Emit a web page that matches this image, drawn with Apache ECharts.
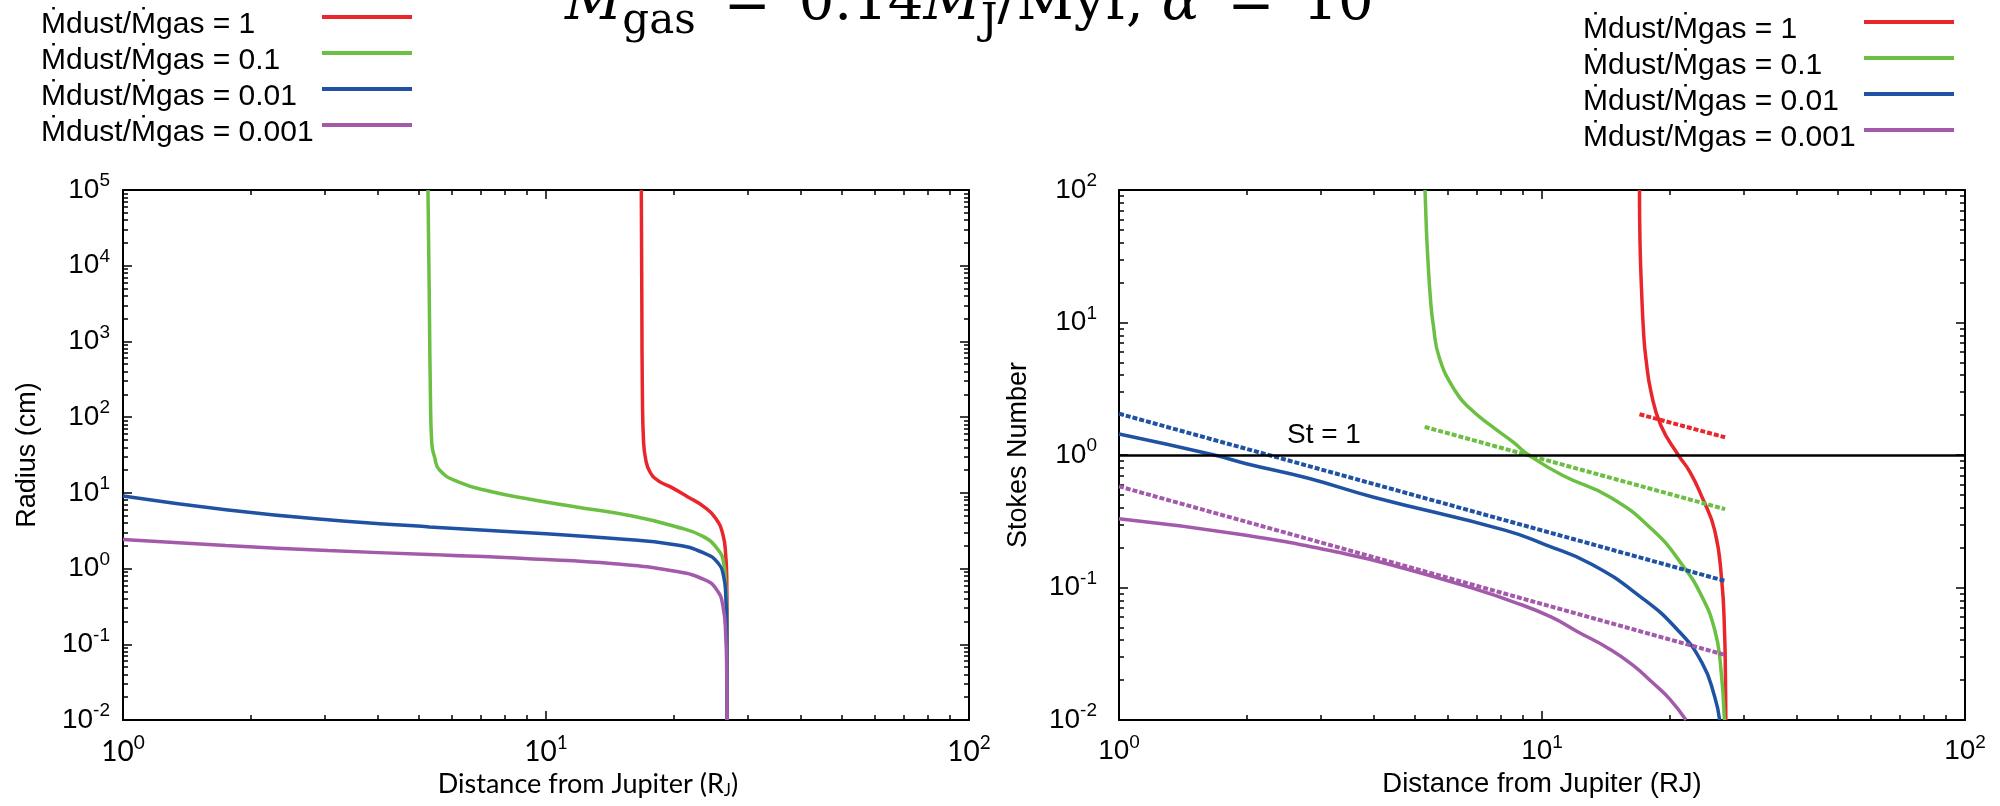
<!DOCTYPE html>
<html>
<head>
<meta charset="utf-8">
<script src="https://cdn.jsdelivr.net/npm/echarts@6/dist/echarts.min.js"></script>
<style>html,body{margin:0;padding:0;background:#fff}#chart{width:2000px;height:806px}</style>
</head>
<body>
<div id="chart"></div>
<script>
var chart = echarts.init(document.getElementById('chart'));

var SANS = '"Liberation Sans", Arial, Helvetica, sans-serif';
var SERIF = '"DejaVu Serif", "Liberation Serif", serif';
var CALIBRI = 'Lato, "Open Sans", sans-serif';

// legend entries and colours
var ratioNames = ['Ṁdust/Ṁgas = 1', 'Ṁdust/Ṁgas = 0.1', 'Ṁdust/Ṁgas = 0.01', 'Ṁdust/Ṁgas = 0.001'];
var colors = ['#e8262b', '#6bbf42', '#1f52a3', '#a45aab'];

// tick values
var xMajor = [1, 10, 100];
var radiusMajor = [0.01, 0.1, 1, 10, 100, 1000, 10000, 100000];
var stokesMajor = [0.01, 0.1, 1, 10, 100];

// left panel: radius (cm) vs distance (R_J)
var radiusRed = [[16.8, 100000], [16.85, 3000], [16.9, 200], [17.0, 50], [17.2, 28], [17.6, 19], [18.4, 14.5], [19.7, 12], [21.6, 8.9], [23.6, 6.6], [25.2, 4.6], [26.2, 2.8], [26.6, 1.5], [26.75, 0.7], [26.8, 0.1], [26.8, 0.01]];
var radiusGreen = [[5.26, 100000], [5.3, 3000], [5.33, 200], [5.37, 45], [5.45, 30], [5.6, 20], [6.2, 14], [7.4, 10.4], [9.3, 8.1], [11.6, 6.6], [16.1, 4.9], [20.2, 3.6], [23.5, 2.66], [25.5, 1.78], [26.3, 1.19], [26.6, 0.6], [26.75, 0.25], [26.8, 0.01]];
var radiusBlue = [[1, 9.1], [1.75, 6.0], [3.05, 4.4], [5.3, 3.55], [9.3, 2.95], [14.5, 2.5], [20.2, 2.07], [23.6, 1.61], [25.5, 1.19], [26.3, 0.79], [26.6, 0.45], [26.75, 0.15], [26.8, 0.01]];
var radiusPurple = [[1, 2.42], [1.75, 2.01], [3.05, 1.73], [5.3, 1.53], [9.3, 1.34], [14.5, 1.16], [20.2, 0.92], [23.6, 0.72], [25.3, 0.53], [26.2, 0.32], [26.6, 0.13], [26.75, 0.04], [26.8, 0.01]];

// right panel: Stokes number vs distance
var stokesRed = [[17.0, 100], [17.05, 40], [17.2, 17], [17.4, 8], [17.6, 5.4], [18.1, 3.0], [19.1, 1.67], [21.0, 1.0], [22.4, 0.74], [23.9, 0.48], [25.6, 0.27], [26.6, 0.113], [27.0, 0.048], [27.15, 0.02], [27.2, 0.01]];
var stokesGreen = [[5.29, 100], [5.33, 50], [5.37, 31], [5.45, 15], [5.53, 9.7], [5.72, 5.4], [6.25, 3.0], [6.76, 2.24], [7.56, 1.67], [8.55, 1.25], [9.3, 1.0], [11.2, 0.7], [14.5, 0.48], [18.3, 0.27], [21.4, 0.15], [23.9, 0.085], [25.6, 0.048], [26.4, 0.027], [27.0, 0.01]];
var stokesBlue = [[1, 1.44], [1.68, 1.0], [2.0, 0.86], [2.79, 0.67], [4.0, 0.48], [8.2, 0.27], [10.2, 0.21], [13.1, 0.15], [17.1, 0.085], [20.9, 0.048], [23.9, 0.027], [25.6, 0.015], [26.3, 0.01]];
var stokesPurple = [[1, 0.33], [1.96, 0.25], [3.42, 0.18], [4.78, 0.138], [6.69, 0.101], [8.55, 0.078], [10.5, 0.06], [12.2, 0.046], [14.3, 0.035], [16.4, 0.026], [18.3, 0.019], [20.0, 0.0145], [21.9, 0.01]];

// dashed fits (right panel)
var fitRed = [[17.0, 2.03], [27.1, 1.36]];
var fitGreen = [[5.28, 1.63], [27.1, 0.39]];
var fitBlue = [[1, 2.05], [27.1, 0.112]];
var fitPurple = [[1, 0.58], [27.1, 0.031]];

// 2..9 minor ticks inside each decade
function minorsOf(major) {
    var out = [];
    for (var i = 0; i < major.length - 1; i++) {
        for (var k = 2; k <= 9; k++) out.push(major[i] * k);
    }
    return out;
}

function pow10(v) {
    var e = Math.round(Math.log(v) / Math.LN10);
    return '{b|10}{e|' + e + '}';
}
function tickRich(font) {
    return {
        b: {fontSize: 28, fontFamily: font, color: '#000'},
        e: {fontSize: 19, fontFamily: font, color: '#000', padding: [0, 0, 18, 0]}
    };
}

// one log axis (main or mirror/minor)
function logAxis(grid, position, min, max, ticks, len, showLine, extra) {
    var a = {
        type: 'log', logBase: 10, gridIndex: grid, position: position,
        min: min, max: max,
        axisLine: {show: showLine, onZero: false, lineStyle: {color: '#000', width: 2}},
        axisTick: {show: true, inside: true, length: len, customValues: ticks, lineStyle: {color: '#000', width: 1.5}},
        axisLabel: {show: false},
        splitLine: {show: false},
        minorTick: {show: false}
    };
    for (var k in extra) a[k] = extra[k];
    return a;
}

var xAxes = [];
var yAxes = [];
[0, 1].forEach(function (g) {
    var xFont = g === 0 ? CALIBRI : SANS;
    var xName = g === 0
        ? {name: '{n|Distance from Jupiter (R}{s|J}{n|)}', nameLocation: 'middle', nameGap: 50,
           nameTextStyle: {padding: [0, 0, 0, 84], rich: {
               n: {fontSize: 27, fontFamily: CALIBRI, color: '#000'},
               s: {fontSize: 17, fontFamily: CALIBRI, color: '#000', padding: [12, 0, 0, 0]}}}}
        : {name: 'Distance from Jupiter (RJ)', nameLocation: 'middle', nameGap: 50,
           nameTextStyle: {fontSize: 27.5, fontFamily: SANS, color: '#000'}};
    xName.axisLabel = {show: true, customValues: xMajor, formatter: pow10, margin: 13, rich: tickRich(xFont)};
    xAxes.push(logAxis(g, 'bottom', 1, 100, xMajor, 9, true, xName));
    xAxes.push(logAxis(g, 'bottom', 1, 100, minorsOf(xMajor), 5, false, {}));
    xAxes.push(logAxis(g, 'top', 1, 100, xMajor, 9, true, {}));
    xAxes.push(logAxis(g, 'top', 1, 100, minorsOf(xMajor), 5, false, {}));

    var major = g === 0 ? radiusMajor : stokesMajor;
    var yMin = 0.01, yMax = g === 0 ? 100000 : 100;
    var yName = {
        name: g === 0 ? 'Radius (cm)' : 'Stokes Number',
        nameLocation: 'middle', nameGap: g === 0 ? 82 : 87,
        nameTextStyle: {fontSize: 27, fontFamily: SANS, color: '#000'},
        axisLabel: {show: true, customValues: major, formatter: pow10, margin: g === 0 ? 13 : 22, rich: tickRich(SANS)}
    };
    yAxes.push(logAxis(g, 'left', yMin, yMax, major, 9, true, yName));
    yAxes.push(logAxis(g, 'left', yMin, yMax, minorsOf(major), 5, false, {}));
    yAxes.push(logAxis(g, 'right', yMin, yMax, major, 9, true, {}));
    yAxes.push(logAxis(g, 'right', yMin, yMax, minorsOf(major), 5, false, {}));
});

function curve(name, color, data, axis, dashed) {
    return {
        type: 'line', name: name, data: data,
        xAxisIndex: axis, yAxisIndex: axis,
        symbol: 'none', showSymbol: false,
        smooth: dashed ? false : 0.5,
        lineStyle: {color: color, width: dashed ? 4 : 3.5, type: dashed ? [5, 2] : 'solid'},
        itemStyle: {color: color},
        animation: false
    };
}

var series = [
    curve(ratioNames[0], colors[0], radiusRed, 0),
    curve(ratioNames[1], colors[1], radiusGreen, 0),
    curve(ratioNames[2], colors[2], radiusBlue, 0),
    curve(ratioNames[3], colors[3], radiusPurple, 0),
    curve(ratioNames[0], colors[0], stokesRed, 4),
    curve(ratioNames[1], colors[1], stokesGreen, 4),
    curve(ratioNames[2], colors[2], stokesBlue, 4),
    curve(ratioNames[3], colors[3], stokesPurple, 4),
    curve(ratioNames[0], colors[0], fitRed, 4, true),
    curve(ratioNames[1], colors[1], fitGreen, 4, true),
    curve(ratioNames[2], colors[2], fitBlue, 4, true),
    curve(ratioNames[3], colors[3], fitPurple, 4, true)
];
// St = 1 reference line
series[4].markLine = {
    silent: true, symbol: ['none', 'none'], animation: false,
    lineStyle: {color: '#000', width: 2.5, type: 'solid'},
    label: {show: true, formatter: 'St = 1', position: 'insideStartTop', distance: [168, 6],
            color: '#000', fontSize: 28, fontFamily: SANS},
    data: [{yAxis: 1}]
};

function legendAt(left, top) {
    return {
        data: ratioNames, orient: 'vertical', left: left, top: top, padding: 0, itemGap: -10,
        itemWidth: 90, itemHeight: 4, icon: 'rect', align: 'right', selectedMode: false,
        itemStyle: {borderWidth: 0},
        formatter: '{a|{name}}',
        textStyle: {fontSize: 30, fontFamily: SANS, color: '#000', rich: {
            a: {width: 276, align: 'left', fontSize: 30, fontFamily: SANS, color: '#000', lineHeight: 14, padding: [16, 0, 0, 0]}
        }}
    };
}

var option = {
    backgroundColor: '#fff',
    animation: false,
    grid: [
        {left: 123, right: 1031, top: 190, bottom: 86},
        {left: 1119, right: 35, top: 190, bottom: 86}
    ],
    xAxis: xAxes,
    yAxis: yAxes,
    legend: [legendAt(41, -6), legendAt(1583, -1)],
    graphic: [{
        type: 'text', x: 565, y: 4, silent: true,
        style: {
            text: '{mi|Ṁ}{sub|gas}{eq|=}{n|0.14}{mi|M}{sub|J}{n|/Myr, }{mi|α}{eq|=}{n|10}',
            align: 'left', verticalAlign: 'middle',
            rich: {
                n: {fontFamily: SERIF, fontSize: 56, color: '#000'},
                mi: {fontFamily: SERIF, fontStyle: 'italic', fontSize: 56, color: '#000'},
                sub: {fontFamily: SERIF, fontSize: 42, color: '#000', padding: [36, 0, 0, 0]},
                eq: {fontFamily: SERIF, fontSize: 56, color: '#000', padding: [0, 28, 0, 28]}
            }
        }
    }],
    series: series
};

chart.setOption(option);
</script>
</body>
</html>
